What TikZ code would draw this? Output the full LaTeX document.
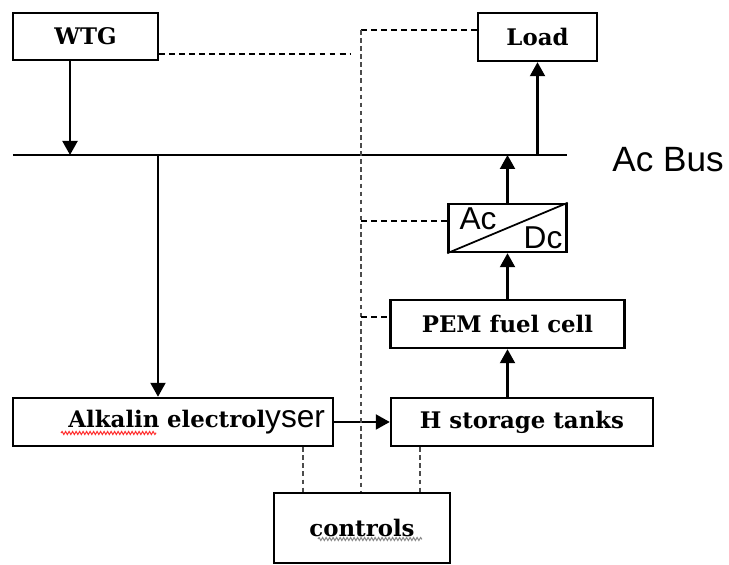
\documentclass[tikz,border=0pt]{standalone}
\usepackage{fontspec}
\setmainfont{DejaVu Serif}
\newfontfamily\sansfont{Liberation Sans}
\usetikzlibrary{arrows.meta,decorations.pathmorphing}

\begin{document}
\begin{tikzpicture}[
    box/.style={draw, line width=1.4pt, inner sep=0pt, font=\bfseries\fontsize{13}{16}\selectfont},
    flow/.style={line width=1.2pt, -{Triangle[width=0.3cm,length=0.28cm]}},
    ctrl/.style={line width=1pt, dash pattern=on 3.4pt off 2.3pt},
    ctrlv/.style={line width=1.4pt, black!70, dash pattern=on 2.6pt off 2pt},
    bigsans/.style={font=\sansfont\fontsize{18}{20}\selectfont, inner sep=0pt},
    spell/.style={decorate, decoration={snake, amplitude=0.03cm, segment length=0.07cm}, line width=0.6pt}
  ]
  \useasboundingbox (0,0) rectangle (14.58,11.3);

  % units
  \node[box, minimum width=2.9cm, minimum height=0.94cm] (wtg) at (1.71,10.57) {WTG};
  \node[box, minimum width=2.38cm, minimum height=0.96cm] (load) at (10.75,10.56) {Load};
  \node[box, minimum width=2.36cm, minimum height=0.96cm] (acdc) at (10.15,6.74) {};
  \node[box, minimum width=4.68cm, minimum height=0.96cm] (pem) at (10.15,4.82) {PEM fuel cell};
  \node[box, minimum width=5.24cm, minimum height=0.96cm] (hst) at (10.44,2.86) {H storage tanks};
  \node[box, minimum width=6.4cm, minimum height=0.96cm, text width=6.08cm, align=right] (alk) at (3.46,2.86)
    {Alkalin electrol{\mdseries\sansfont\fontsize{18}{20}\selectfont yser}};
  \node[box, minimum width=3.52cm, minimum height=1.4cm] (ctrl) at (7.24,0.74) {controls};

  % converter
  \draw[line width=1pt] (acdc.south west) -- (acdc.north east);
  \node[bigsans] (ac) at (9.56,6.92) {Ac};
  \node[bigsans] (dc) at (10.86,6.54) {Dc};

  % ac bus
  \coordinate (busl) at (0.26,8.2);
  \coordinate (busr) at (11.34,8.2);
  \draw[line width=1.4pt] (busl) -- (busr);
  \node[bigsans, font=\sansfont\fontsize{20}{22}\selectfont] (buslabel) at (13.36,8.1) {Ac Bus};
  \coordinate (b1) at (1.4,8.2);
  \coordinate (b2) at (3.16,8.2);

  % power flow
  \draw[flow] (wtg.south -| b1) -- (b1);
  \draw[flow] (b2) -- (b2 |- alk.north);
  \draw[flow] (alk.east) -- (hst.west);
  \draw[flow] (hst.north -| pem.south) -- (pem.south);
  \draw[flow] (pem.north) -- (acdc.south);
  \draw[flow] (acdc.north) -- (acdc.north |- busl);
  \draw[flow] (load.south |- busl) -- (load.south);

  % control signals
  \coordinate (c0) at (7.02,10.22);
  \coordinate (c1) at (7.22,10.7);
  \coordinate (c2) at (7.22,6.88);
  \coordinate (c3) at (7.22,4.96);
  \coordinate (x4) at (6.06,0);
  \coordinate (x5) at (8.4,0);
  \draw[ctrl] (wtg.east |- c0) -- (c0);
  \draw[ctrl] (load.west |- c1) -- (c1);
  \draw[ctrlv] (c1) -- (c1 |- ctrl.north);
  \draw[ctrl] (c2) -- (c2 -| acdc.west);
  \draw[ctrl] (c3) -- (c3 -| pem.west);
  \draw[ctrlv] (alk.south -| x4) -- (ctrl.north -| x4);
  \draw[ctrlv] (hst.south -| x5) -- (ctrl.north -| x5);

  % spell check marks
  \draw[spell, red!80] (1.22,2.64) -- (3.12,2.64);
  \draw[spell, black!45] (6.36,0.52) -- (8.44,0.52);
\end{tikzpicture}
\end{document}
